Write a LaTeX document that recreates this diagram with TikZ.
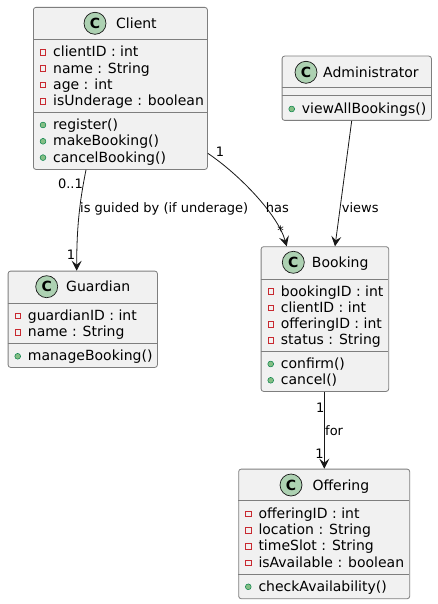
\documentclass[tikz,border=0pt]{standalone}
\usepackage{fontspec}
\setmainfont{DejaVu Sans}
\usetikzlibrary{arrows.meta,calc}
\definecolor{boxfill}{HTML}{F1F1F1}
\definecolor{linec}{HTML}{181818}
\definecolor{bordc}{HTML}{7E7E7E}
\definecolor{circfill}{HTML}{ADD1B2}
\definecolor{attrred}{HTML}{C82930}
\definecolor{methfill}{HTML}{84BE84}
\definecolor{methline}{HTML}{038048}
\tikzset{
  classbox/.style={draw=bordc, fill=boxfill, rounded corners=2.5pt, line width=0.8pt, inner sep=0pt, anchor=north west},
  sepline/.style={draw=bordc, line width=0.8pt},
  member/.style={anchor=base west, inner sep=0pt, font=\fontsize{14}{16}\selectfont},
  titletext/.style={anchor=base west, inner sep=0pt, font=\fontsize{14}{16}\selectfont},
  circmark/.style={circle, fill=circfill, draw=linec, line width=0.7pt, minimum size=22pt, inner sep=0pt, font=\fontsize{14}{16}\selectfont\bfseries},
  attrmark/.style={rectangle, draw=attrred, line width=0.7pt, minimum size=5.5pt, inner sep=0pt},
  methmark/.style={circle, fill=methfill, draw=methline, line width=0.5pt, minimum size=5.8pt, inner sep=0pt},
  conn/.style={draw=linec, line width=0.8pt, -{Stealth[length=10pt,width=10pt,inset=4pt]}},
  lbl/.style={anchor=base, inner sep=0pt, font=\fontsize{13}{15}\selectfont},
  lblw/.style={anchor=base west, inner sep=0pt, font=\fontsize{13}{15}\selectfont}
}
\newcommand\umlrow[5]{%
  \ifx a#4\node[attrmark] (#1m) at (#2+10,#3-4.5) {};\else\node[methmark] (#1m) at (#2+10,#3-4.5) {};\fi
  \node[member] (#1) at (#2+20,#3) {#5};}
\newcommand\umltitle[5]{%
  \node[circmark] (#1c) at (#2,#3) {C};
  \node[titletext] (#1t) at (#4,#3+5) {#5};}
\begin{document}
\begin{tikzpicture}[x=1pt,y=-1pt]
\useasboundingbox (0,0) rectangle (437,604);
\fill[white] (0,0) rectangle (437,604);

% Client
\node[classbox, minimum width=174pt, minimum height=162pt] (client) at (33,7) {};
\draw[sepline] (33,39.3) -- (207,39.3);
\draw[sepline] (33,112.3) -- (207,112.3);
\umltitle{client}{95}{23.3}{116}{Client}
\umlrow{ca1}{33}{56.8}{a}{clientID : int}
\umlrow{ca2}{33}{73.1}{a}{name : String}
\umlrow{ca3}{33}{89.4}{a}{age : int}
\umlrow{ca4}{33}{105.7}{a}{isUnderage : boolean}
\umlrow{cm1}{33}{129.5}{m}{register()}
\umlrow{cm2}{33}{145.8}{m}{makeBooking()}
\umlrow{cm3}{33}{162.1}{m}{cancelBooking()}

% Administrator
\node[classbox, minimum width=149.3pt, minimum height=64.3pt] (admin) at (281.7,55.7) {};
\draw[sepline] (281.7,87.7) -- (431,87.7);
\draw[sepline] (281.7,95.7) -- (431,95.7);
\umltitle{admin}{306}{72.3}{323}{Administrator}
\umlrow{am1}{281.7}{113.5}{m}{viewAllBookings()}

% Guardian
\node[classbox, minimum width=149.3pt, minimum height=96.3pt] (guardian) at (7.7,270.7) {};
\draw[sepline] (7.7,303) -- (157,303);
\draw[sepline] (7.7,343.3) -- (157,343.3);
\umltitle{guardian}{46.7}{286.7}{66}{Guardian}
\umlrow{ga1}{7.7}{320.5}{a}{guardianID : int}
\umlrow{ga2}{7.7}{336.8}{a}{name : String}
\umlrow{gm1}{7.7}{360.8}{m}{manageBooking()}

% Booking
\node[classbox, minimum width=127.6pt, minimum height=144.7pt] (booking) at (260.7,246.3) {};
\draw[sepline] (260.7,279) -- (388.3,279);
\draw[sepline] (260.7,351.3) -- (388.3,351.3);
\umltitle{booking}{293.3}{262.3}{311.7}{Booking}
\umlrow{ba1}{260.7}{296}{a}{bookingID : int}
\umlrow{ba2}{260.7}{312.3}{a}{clientID : int}
\umlrow{ba3}{260.7}{328.6}{a}{offeringID : int}
\umlrow{ba4}{260.7}{344.9}{a}{status : String}
\umlrow{bm1}{260.7}{368.5}{m}{confirm()}
\umlrow{bm2}{260.7}{384.8}{m}{cancel()}

% Offering
\node[classbox, minimum width=171pt, minimum height=129.6pt] (offering) at (238.3,468.7) {};
\draw[sepline] (238.3,500.3) -- (409.3,500.3);
\draw[sepline] (238.3,574.3) -- (409.3,574.3);
\umltitle{offering}{291}{485}{312.3}{Offering}
\umlrow{oa1}{238.3}{518.3}{a}{offeringID : int}
\umlrow{oa2}{238.3}{534.6}{a}{location : String}
\umlrow{oa3}{238.3}{550.9}{a}{timeSlot : String}
\umlrow{oa4}{238.3}{567.2}{a}{isAvailable : boolean}
\umlrow{om1}{238.3}{591.3}{m}{checkAvailability()}

% helper coordinates for connector ends
\coordinate (cgx) at (86,0);
\coordinate (gx) at (76.7,0);
\coordinate (cby) at (0,153.3);
\coordinate (bx1) at (286.7,0);
\coordinate (ax) at (351.7,0);
\coordinate (bx2) at (335,0);
\coordinate (bx3) at (324.3,0);

% connectors
\draw[conn] (client.south -| cgx) .. controls (80,200) and (76.7,225) .. (guardian.north -| gx);
\draw[conn] (client.east |- cby) .. controls (240,175) and (278,215) .. (booking.north -| bx1);
\draw[conn] (admin.south -| ax) -- (booking.north -| bx2);
\draw[conn] (booking.south -| bx3) -- (offering.north -| bx3);

% labels
\node[lbl] (l01) at (70.5,188.7) {0..1};
\node[lbl] (lg1) at (71,259) {1};
\node[lblw] (lguid) at (80,212) {is guided by (if underage)};
\node[lbl] (lc1) at (220,157) {1};
\node[lbl] (lhas) at (277.3,212) {has};
\node[lbl] (lstar) at (280.5,235) {*};
\node[lblw] (lviews) at (341.7,212) {views};
\node[lbl] (lb1) at (320.3,412.7) {1};
\node[lblw] (lfor) at (325,435) {for};
\node[lbl] (lo1) at (319.5,458) {1};
\end{tikzpicture}
\end{document}
